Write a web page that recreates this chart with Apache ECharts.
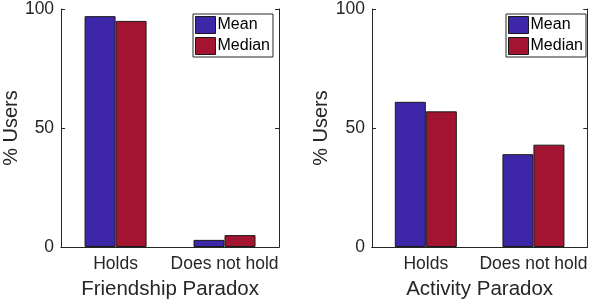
<!DOCTYPE html>
<html>
<head>
<meta charset="utf-8">
<script src="https://cdn.jsdelivr.net/npm/echarts@6/dist/echarts.min.js"></script>
<style>
  html, body { margin: 0; padding: 0; background: #fff; }
  #chart { width: 590px; height: 308px; }
</style>
</head>
<body>
<div id="chart"></div>
<script>
const categories = ["Holds", "Does not hold"];
const friendshipMean = [97, 3];
const friendshipMedian = [95, 5];
const activityMean = [61, 39];
const activityMedian = [57, 43];
const yTicks = [0, 50, 100];

const textColor = "#262626";
const blue = "#3E26A8";
const red = "#A2142F";
const font = "'Liberation Sans', Arial, sans-serif";

const chart = echarts.init(document.querySelector("#chart"), null, {renderer: "canvas"});

function bottomAxis(grid, name) {
  return {
    type: "category", gridIndex: grid, data: categories, position: "bottom",
    name: name, nameLocation: "middle", nameGap: 32,
    nameTextStyle: {color: textColor, fontSize: 20.5, fontFamily: font},
    axisLine: {lineStyle: {color: textColor, width: 1}},
    axisTick: {inside: true, length: 4, alignWithLabel: true, lineStyle: {color: textColor}},
    axisLabel: {color: textColor, fontSize: 17.5, fontFamily: font, margin: 8, interval: 0, hideOverlap: false},
    splitLine: {show: false}
  };
}
function topAxis(grid) {
  return {
    type: "category", gridIndex: grid, data: categories, position: "top",
    axisLine: {lineStyle: {color: textColor, width: 1}},
    axisTick: {inside: true, length: 4, alignWithLabel: true, lineStyle: {color: textColor}},
    axisLabel: {show: false},
    splitLine: {show: false}
  };
}
function leftAxis(grid) {
  return {
    type: "value", gridIndex: grid, min: yTicks[0], max: yTicks[yTicks.length - 1], interval: 50,
    position: "left",
    name: "% Users", nameLocation: "middle", nameGap: 33, nameRotate: 90,
    nameTextStyle: {color: textColor, fontSize: 20, fontFamily: font},
    axisLine: {show: true, lineStyle: {color: textColor, width: 1}},
    axisTick: {show: true, inside: true, length: 4, lineStyle: {color: textColor}},
    axisLabel: {color: textColor, fontSize: 17.5, fontFamily: font, margin: 7},
    splitLine: {show: false}
  };
}
function rightAxis(grid) {
  return {
    type: "value", gridIndex: grid, min: yTicks[0], max: yTicks[yTicks.length - 1], interval: 50,
    position: "right",
    axisLine: {show: true, lineStyle: {color: textColor, width: 1}},
    axisTick: {show: true, inside: true, length: 4, lineStyle: {color: textColor}},
    axisLabel: {show: false},
    splitLine: {show: false}
  };
}
function barSeries(name, grid, data, color) {
  return {
    type: "bar", name: name, data: data,
    xAxisIndex: grid * 2, yAxisIndex: grid * 2,
    barWidth: 31, barGap: "0%",
    itemStyle: {color: color, borderColor: "#1a1a1a", borderWidth: 1},
    emphasis: {disabled: true},
    animation: false
  };
}
function legendAt(left) {
  return {
    orient: "vertical", left: left, top: 14,
    data: ["Mean", "Median"],
    icon: "rect",
    itemWidth: 20, itemHeight: 17, itemGap: 3,
    padding: [2, 3, 2, 2],
    borderColor: textColor, borderWidth: 1, backgroundColor: "#fff",
    textStyle: {color: "#000", fontSize: 16, fontFamily: font, padding: [0, 0, 0, -3]},
    itemStyle: {borderColor: "#1a1a1a", borderWidth: 1},
    selectedMode: false
  };
}

chart.setOption({
  backgroundColor: "#fff",
  animation: false,
  grid: [
    {left: 59, top: 9, width: 220, bottom: 61},
    {left: 372, top: 9, width: 217, bottom: 61}
  ],
  xAxis: [
    bottomAxis(0, "Friendship Paradox"), topAxis(0),
    bottomAxis(1, "Activity Paradox"), topAxis(1)
  ],
  yAxis: [leftAxis(0), rightAxis(0), leftAxis(1), rightAxis(1)],
  legend: [legendAt(193), legendAt(506)],
  series: [
    barSeries("Mean", 0, friendshipMean, blue),
    barSeries("Median", 0, friendshipMedian, red),
    barSeries("Mean", 1, activityMean, blue),
    barSeries("Median", 1, activityMedian, red)
  ]
});
</script>
</body>
</html>
